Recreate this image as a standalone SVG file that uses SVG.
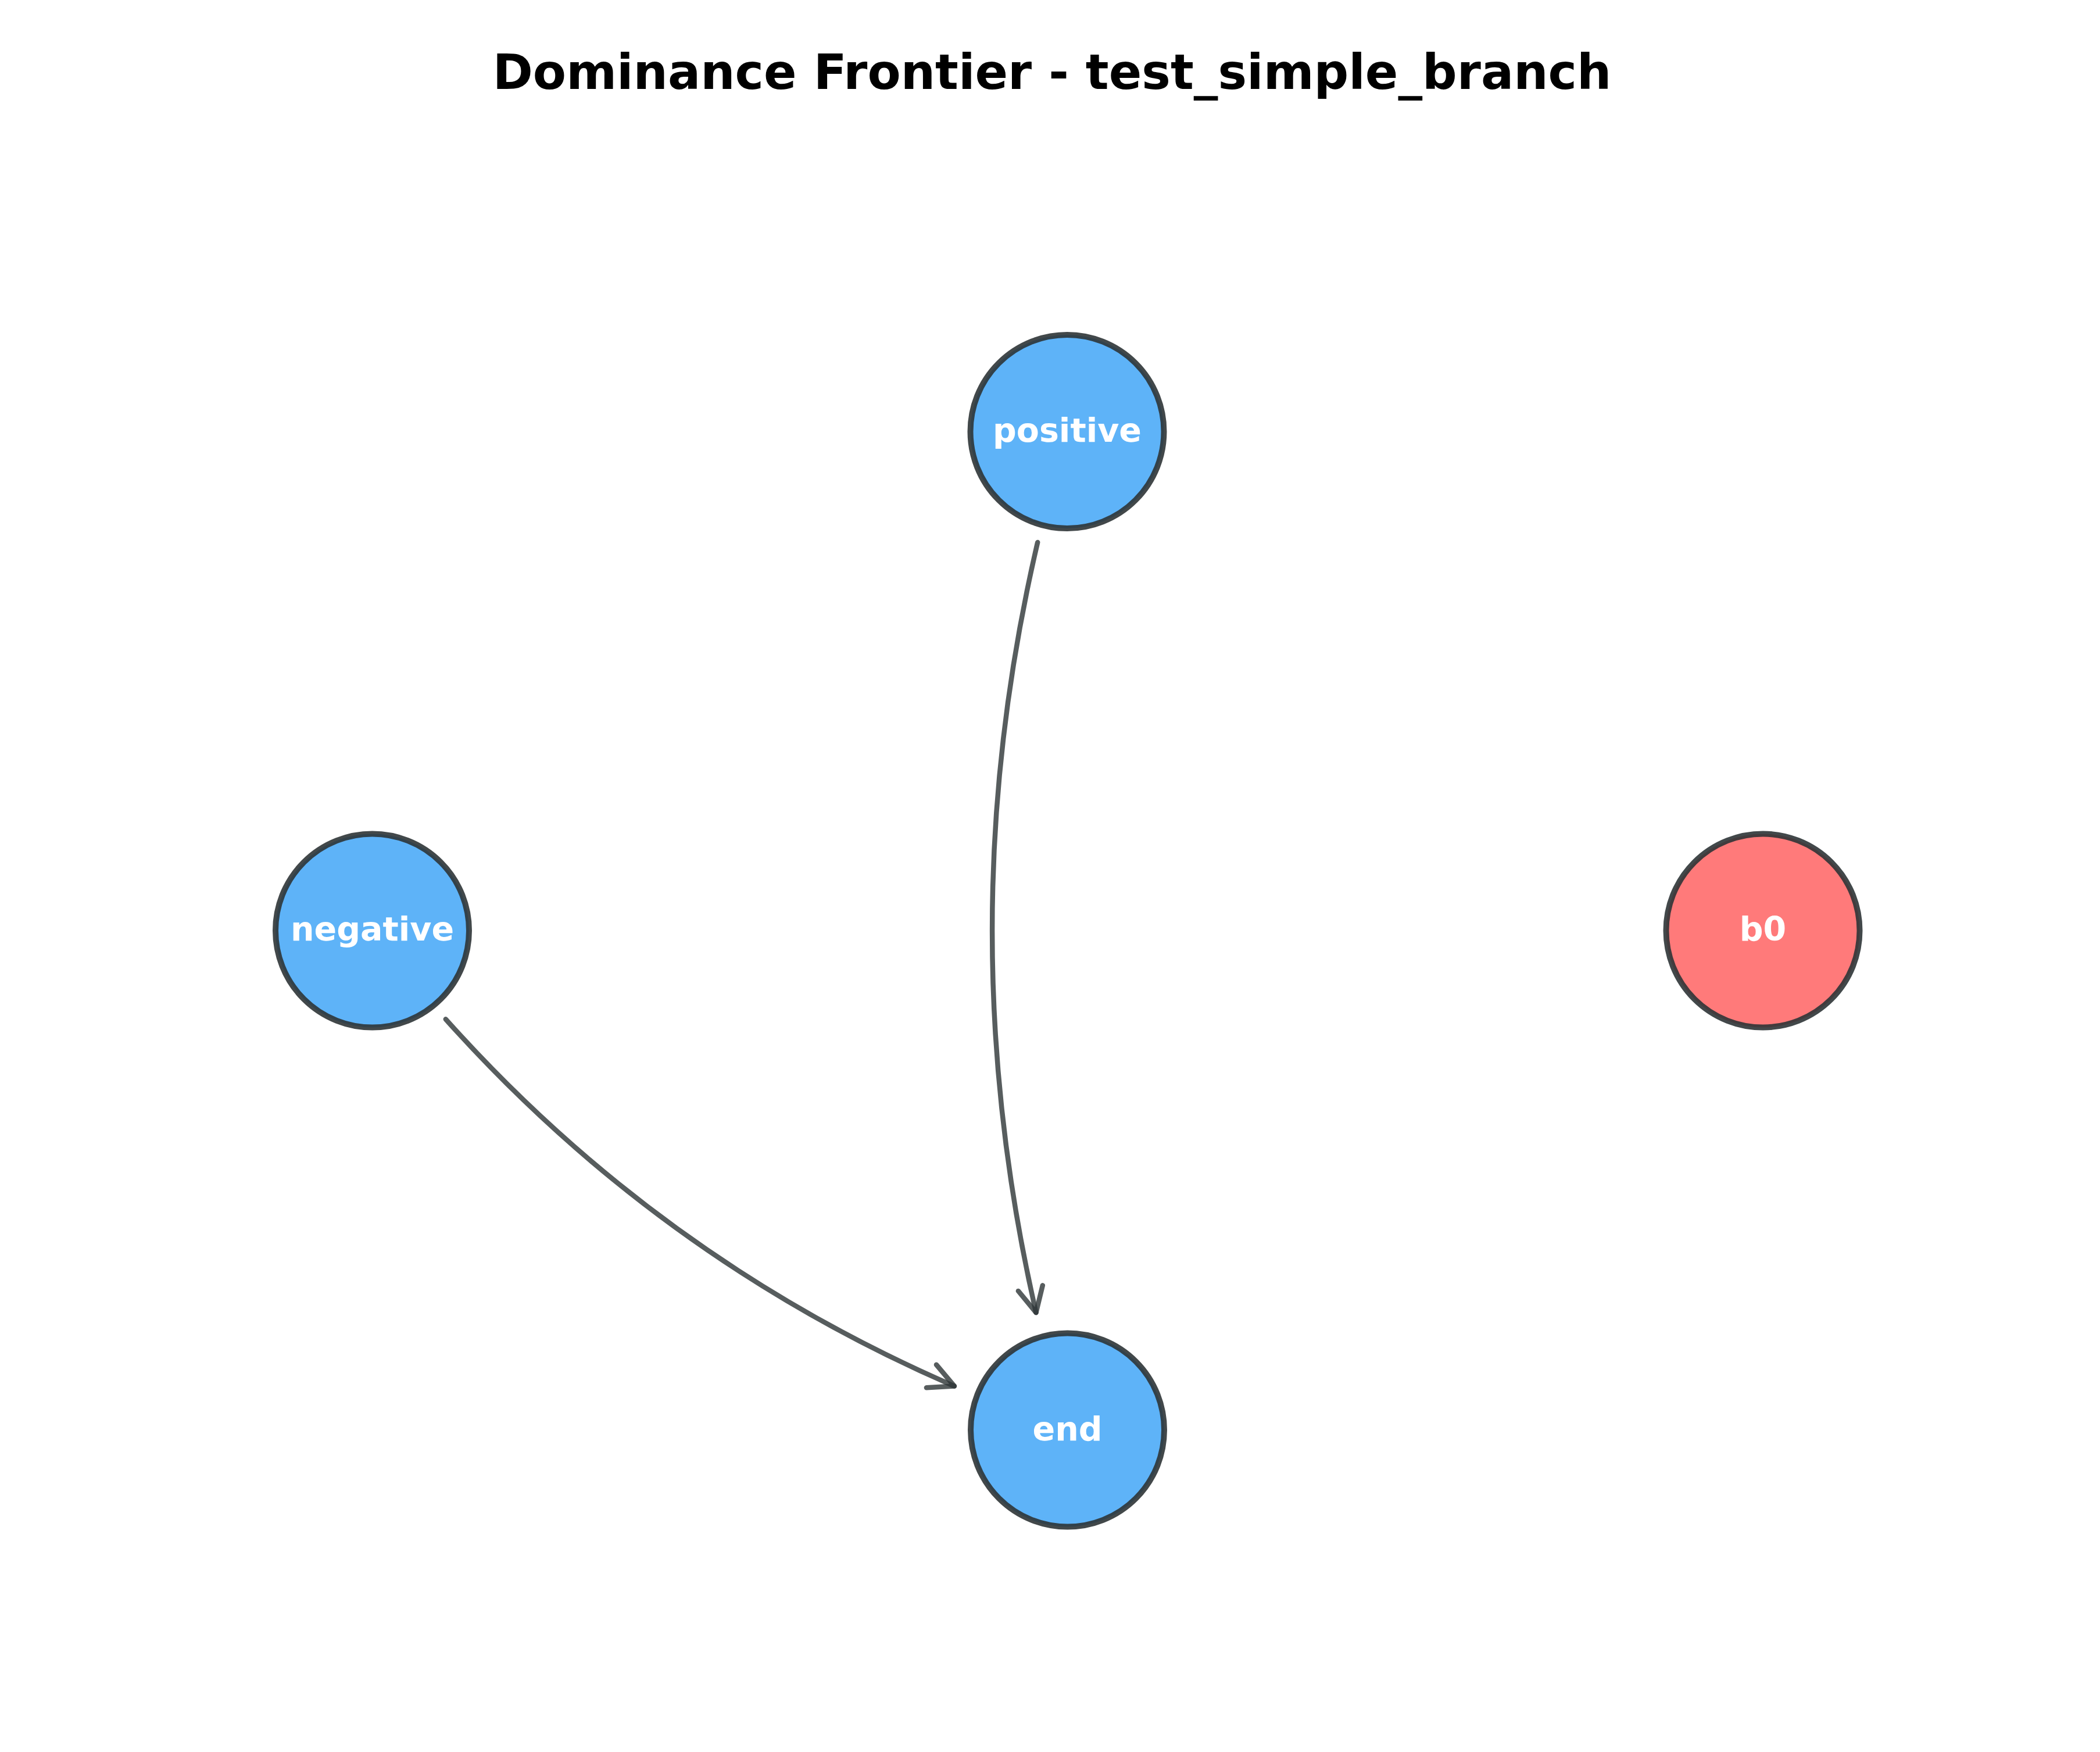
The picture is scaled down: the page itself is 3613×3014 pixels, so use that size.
<svg xmlns="http://www.w3.org/2000/svg" width="3613" height="3014" viewBox="0 0 3613 3014">
  <style>
    .node circle { stroke: #2d3436; stroke-opacity: 0.9; stroke-width: 10; }
    .blue { fill: #4dabf7; fill-opacity: 0.9; }
    .red { fill: #ff6b6b; fill-opacity: 0.9; }
    .label { font-family: "DejaVu Sans", "Liberation Sans", sans-serif; font-weight: bold; font-size: 57px; fill: #ffffff; text-anchor: middle; }
    .title { font-family: "DejaVu Sans", "Liberation Sans", sans-serif; font-weight: bold; font-size: 83.4px; fill: #000000; text-anchor: middle; }
    .edge { fill: none; stroke: #2d3436; stroke-opacity: 0.8; stroke-width: 8.5; stroke-linecap: round; stroke-linejoin: round; }
  </style>
  <defs>
    <marker id="arrow" markerUnits="userSpaceOnUse" orient="auto" refX="0" refY="0" markerWidth="120" markerHeight="120" viewBox="-60 -60 120 120" overflow="visible">
      <path d="M-43,-21.5 L0,0 L-43,21.5" fill="none" stroke="#2d3436" stroke-opacity="0.8" stroke-width="8.5" stroke-linecap="round" stroke-linejoin="round"/>
    </marker>
  </defs>
  <rect x="0" y="0" width="3613" height="3014" fill="#ffffff"/>
  <text class="title" x="1810" y="153">Dominance Frontier - test_simple_branch</text>
  <g id="connectors">
    <path id="edge-positive-end" class="edge" d="M1785.2,933 Q1630.4,1595.2 1782.5,2258" marker-end="url(#arrow)"/>
    <path id="edge-negative-end" class="edge" d="M766.8,1753.3 Q1135.1,2165.2 1641.9,2384.6" marker-end="url(#arrow)"/>
  </g>
  <g id="node-positive" class="node">
    <circle class="blue" cx="1836" cy="742.5" r="166.5"/>
    <text class="label" x="1836" y="759.5">positive</text>
  </g>
  <g id="node-negative" class="node">
    <circle class="blue" cx="640.5" cy="1601" r="166.5"/>
    <text class="label" x="640.5" y="1618">negative</text>
  </g>
  <g id="node-b0" class="node">
    <circle class="red" cx="3033" cy="1601" r="166.5"/>
    <text class="label" x="3033" y="1618">b0</text>
  </g>
  <g id="node-end" class="node">
    <circle class="blue" cx="1836.5" cy="2460" r="166.5"/>
    <text class="label" x="1836.5" y="2477.5">end</text>
  </g>
</svg>
